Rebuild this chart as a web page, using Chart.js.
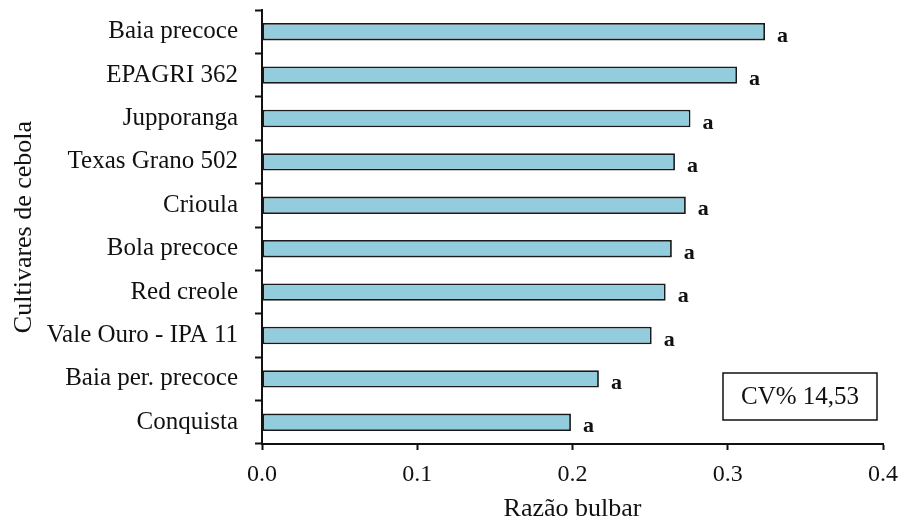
<!DOCTYPE html>
<html>
<head>
<meta charset="utf-8">
<script src="https://cdn.jsdelivr.net/npm/chart.js@4/dist/chart.umd.min.js"></script>
<style>
  html, body { margin: 0; padding: 0; background: #fff; }
  #wrap { width: 903px; height: 522px; }
</style>
</head>
<body>
<div id="wrap"><canvas id="chart" width="903" height="522"></canvas></div>
<script>
const cultivars = [
  'Baia precoce',
  'EPAGRI 362',
  'Jupporanga',
  'Texas Grano 502',
  'Crioula',
  'Bola precoce',
  'Red creole',
  'Vale Ouro - IPA 11',
  'Baia per. precoce',
  'Conquista',
];
const bulbRatio = [0.324, 0.306, 0.276, 0.266, 0.273, 0.264, 0.260, 0.251, 0.217, 0.199];
const letters = ['a', 'a', 'a', 'a', 'a', 'a', 'a', 'a', 'a', 'a'];
const xTicks = [0.0, 0.1, 0.2, 0.3, 0.4];
const cvText = 'CV% 14,53';

const serif = "'Liberation Serif', 'Times New Roman', serif";

// letters after each bar + the CV box in the lower right
const extras = {
  id: 'extras',
  afterDatasetsDraw(chart) {
    const ctx = chart.ctx;
    const meta = chart.getDatasetMeta(0);
    ctx.save();
    ctx.fillStyle = '#111';
    ctx.font = 'bold 22px ' + serif;
    ctx.textAlign = 'left';
    ctx.textBaseline = 'alphabetic';
    meta.data.forEach((bar, i) => {
      ctx.fillText(letters[i], bar.x + 12, bar.y + 10);
    });

    const area = chart.chartArea;
    const w = 154, h = 47;
    const x = area.right - 6 - w;
    const y = area.bottom - 24 - h;
    ctx.strokeStyle = '#111';
    ctx.lineWidth = 1.5;
    ctx.strokeRect(x, y, w, h);
    ctx.font = '25px ' + serif;
    ctx.textAlign = 'center';
    ctx.textBaseline = 'middle';
    ctx.fillText(cvText, x + w / 2, y + h / 2 + 1);
    ctx.restore();
  },
};

new Chart(document.getElementById('chart'), {
  type: 'bar',
  data: {
    labels: cultivars,
    datasets: [
      {
        data: bulbRatio,
        backgroundColor: '#93cddd',
        borderColor: '#1a1a1a',
        borderWidth: 1.8,
        borderSkipped: false,
        barPercentage: 0.8,
        categoryPercentage: 0.5,
      },
    ],
  },
  options: {
    indexAxis: 'y',
    responsive: false,
    animation: false,
    layout: { padding: { top: 10, right: 20, left: 0, bottom: 0 } },
    plugins: {
      legend: { display: false },
      tooltip: { enabled: false },
    },
    scales: {
      x: {
        min: 0,
        max: 0.4,
        afterBuildTicks(scale) {
          scale.ticks = xTicks.map((v) => ({ value: v }));
        },
        afterFit(scale) {
          scale.height = 78;
          scale.paddingLeft = 0;
          scale.paddingRight = 0;
        },
        border: { color: '#111', width: 2 },
        grid: {
          drawOnChartArea: false,
          drawTicks: true,
          tickLength: 6,
          tickWidth: 2,
          tickColor: '#111',
        },
        ticks: {
          color: '#111',
          padding: 10,
          font: { family: serif, size: 24 },
          callback: (v) => Number(v).toFixed(1),
        },
        title: {
          display: true,
          text: 'Razão bulbar',
          color: '#111',
          font: { family: serif, size: 26, lineHeight: 1 },
          padding: { top: 0, bottom: 0 },
        },
      },
      y: {
        afterFit(scale) {
          scale.width = 262;
          scale.paddingTop = 0;
          scale.paddingBottom = 0;
        },
        border: { color: '#111', width: 2 },
        grid: {
          offset: true,
          drawOnChartArea: false,
          drawTicks: true,
          tickLength: 7,
          tickWidth: 2,
          tickColor: '#111',
        },
        ticks: {
          color: '#111',
          padding: 17,
          font: { family: serif, size: 25 },
        },
        title: {
          display: true,
          text: 'Cultivares de cebola',
          color: '#111',
          font: { family: serif, size: 26 },
          padding: { top: 9, bottom: 0 },
        },
      },
    },
  },
  plugins: [extras],
});
</script>
</body>
</html>
